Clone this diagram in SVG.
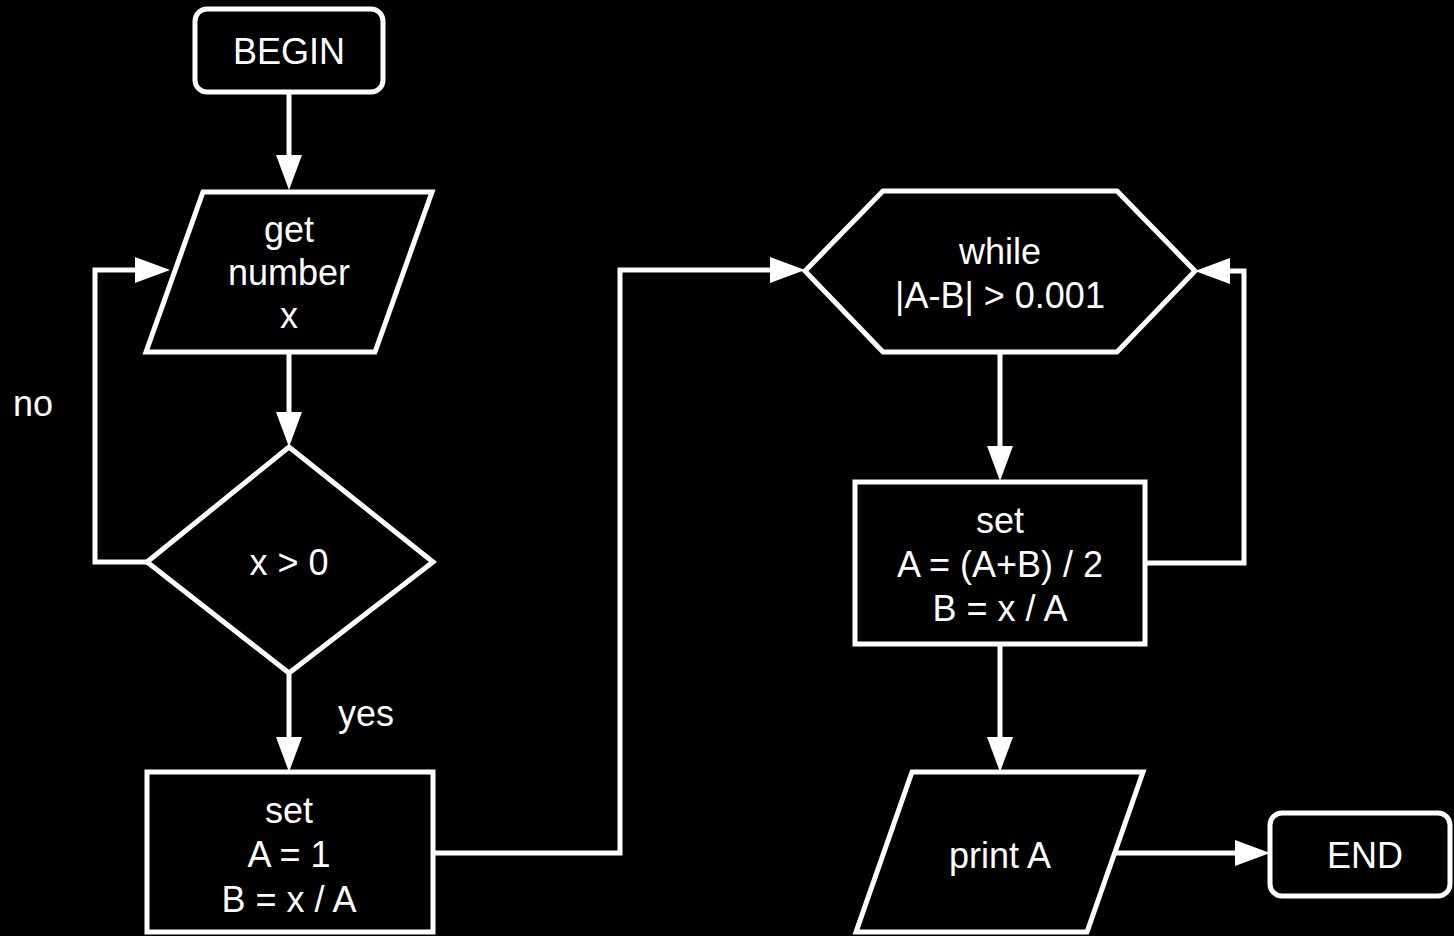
<svg xmlns="http://www.w3.org/2000/svg" width="1454" height="936" viewBox="0 0 1454 936">
<style>
.shape{fill:#000;stroke:#fff;stroke-width:5;stroke-linejoin:miter}
.conn{fill:none;stroke:#fff;stroke-width:5;stroke-linejoin:miter}
text{font-family:"Liberation Sans",Arial,sans-serif;font-size:36px;fill:#fff}
.c{text-anchor:middle}
</style>
<defs>
<marker id="ah" markerUnits="userSpaceOnUse" markerWidth="36" markerHeight="28" refX="5" refY="13" orient="auto" overflow="visible">
<path d="M0,0 L35,13 L0,26 z" fill="#fff"/>
</marker>
</defs>
<rect width="1454" height="936" fill="#000"/>
<g id="connectors">
<path class="conn" d="M289,92 L289,160" marker-end="url(#ah)"/>
<path class="conn" d="M289,352 L289,417" marker-end="url(#ah)"/>
<path class="conn" d="M147,562 L95,562 L95,270 L140,270" marker-end="url(#ah)"/>
<path class="conn" d="M289,673 L289,742" marker-end="url(#ah)"/>
<path class="conn" d="M433,853 L620,853 L620,270 L775,270" marker-end="url(#ah)"/>
<path class="conn" d="M1000,352 L1000,451" marker-end="url(#ah)"/>
<path class="conn" d="M1145,563 L1244,563 L1244,271 L1225,271" marker-end="url(#ah)"/>
<path class="conn" d="M1000,644 L1000,742" marker-end="url(#ah)"/>
<path class="conn" d="M1114,853 L1240,853" marker-end="url(#ah)"/>
</g>
<g id="begin">
<rect class="shape" x="195" y="9" width="188" height="83" rx="12"/>
<text class="c" x="289" y="64">BEGIN</text>
</g>
<g id="get-number">
<polygon class="shape" points="203,192 432,192 375,352 146,352"/>
<text class="c" x="289" y="242">get</text>
<text class="c" x="289" y="285">number</text>
<text class="c" x="289" y="328">x</text>
</g>
<g id="label-no"><text x="13" y="416">no</text></g>
<g id="decision">
<polygon class="shape" points="289,447 433,562 289,673 147,562"/>
<text class="c" x="289" y="575">x &gt; 0</text>
</g>
<g id="label-yes"><text x="338" y="726">yes</text></g>
<g id="set-init">
<rect class="shape" x="147" y="772" width="286" height="160"/>
<text class="c" x="289" y="823">set</text>
<text class="c" x="289" y="867">A = 1</text>
<text class="c" x="289" y="912">B = x / A</text>
</g>
<g id="while">
<polygon class="shape" points="883,191 1117,191 1195,271 1117,352 883,352 805,271"/>
<text class="c" x="1000" y="264">while</text>
<text class="c" x="1000" y="308">|A-B| &gt; 0.001</text>
</g>
<g id="set-loop">
<rect class="shape" x="855" y="482" width="290" height="162"/>
<text class="c" x="1000" y="533">set</text>
<text class="c" x="1000" y="577">A = (A+B) / 2</text>
<text class="c" x="1000" y="621">B = x / A</text>
</g>
<g id="print">
<polygon class="shape" points="912,772 1143,772 1087,932 856,932"/>
<text class="c" x="1000" y="868">print A</text>
</g>
<g id="end">
<rect class="shape" x="1270" y="813" width="180" height="83" rx="12"/>
<text class="c" x="1365" y="868">END</text>
</g>
</svg>
